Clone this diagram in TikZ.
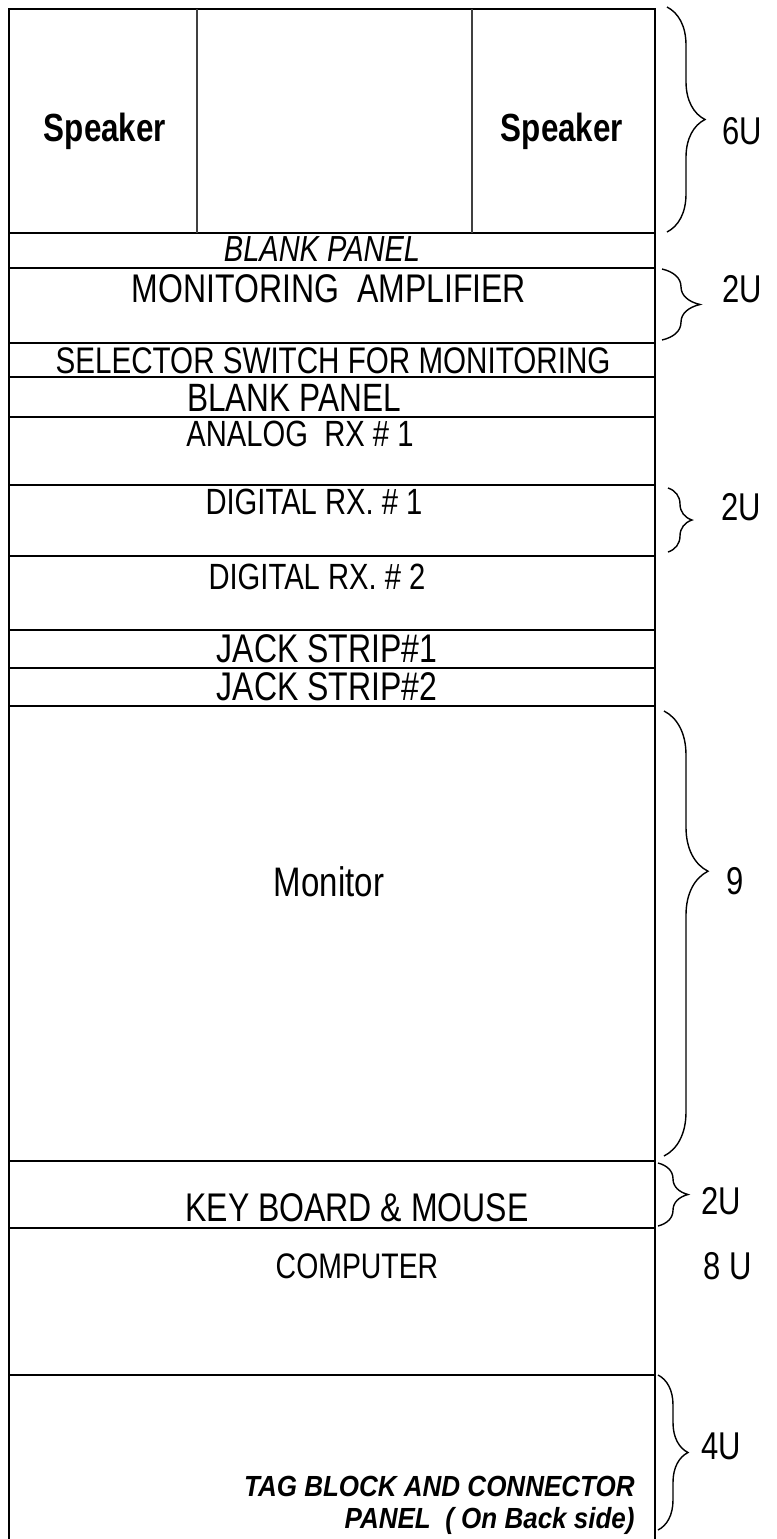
\documentclass[tikz,border=0pt]{standalone}
\usepackage{fontspec}
\usepackage{graphicx}
\setmainfont{Liberation Sans}
\usetikzlibrary{decorations.pathreplacing}
\newcommand{\vstr}[1]{\scalebox{1}[1.25]{#1}}
\newcommand{\vstrs}[1]{\scalebox{1}[1.12]{#1}}
\begin{document}
\begin{tikzpicture}[x=0.5pt,y=-0.5pt,
  frame/.style={line width=1.25pt,black},
  divider/.style={line width=0.8pt,black!75},
  brc/.style={decorate,decoration={brace,amplitude=#1},line width=0.7pt},
  txt/.style={anchor=base,inner sep=0pt,font=\fontsize{#1}{#1}\selectfont},
  rtxt/.style={anchor=base east,inner sep=0pt,font=\fontsize{#1}{#1}\selectfont}
]
\useasboundingbox (0,0) rectangle (777,1539);
% rack frame
\draw[frame] (9,1539) -- (9,9) -- (655,9) -- (655,1539);
\foreach \yy in {233,268,343,377,417,485,556,630,668,706,1161,1228,1375}
  \draw[frame] (9,\yy) -- (655,\yy);
\draw[divider] (197,9) -- (197,233);
\draw[divider] (472,9) -- (472,233);
% panel texts
\node[txt=15.7] (spkL) at (105,141) {\vstr{\bfseries Speaker}};
\node[txt=15.7] (spkR) at (562,141) {\vstr{\bfseries Speaker}};
\node[txt=14.5] (blank1) at (322,261) {\vstr{\itshape BLANK PANEL}};
\node[txt=16] (amp) at (329,302) {\vstr{MONITORING\ \ AMPLIFIER}};
\node[txt=14.8] (sel) at (333,373) {\vstr{SELECTOR SWITCH FOR MONITORING}};
\node[txt=15.8] (blank2) at (294,411) {\vstr{BLANK PANEL}};
\node[txt=14.6] (ana) at (300,446) {\vstr{ANALOG\ \ RX \# 1}};
\node[txt=14.6] (dig1) at (314,514) {\vstr{DIGITAL RX. \# 1}};
\node[txt=14.6] (dig2) at (317,589) {\vstr{DIGITAL RX. \# 2}};
\node[txt=16] (jack1) at (327,662) {\vstr{JACK STRIP\#1}};
\node[txt=16] (jack2) at (327,700) {\vstr{JACK STRIP\#2}};
\node[txt=16.5] (mon) at (329,896) {\vstr{Monitor}};
\node[txt=16] (kb) at (357,1221) {\vstr{KEY BOARD \& MOUSE}};
\node[txt=14.2] (comp) at (357,1278) {\vstr{COMPUTER}};
\node[rtxt=13] (tag1) at (635,1496) {\vstrs{\bfseries\itshape TAG BLOCK AND CONNECTOR}};
\node[rtxt=13] (tag2) at (635,1528) {\vstrs{\bfseries\itshape PANEL\ \ ( On Back side)}};
% braces and unit labels
\draw[brc=19pt] (667,7) -- (667,232);
\node[txt=15.5] (u6) at (742,144) {\vstr{6U}};
\draw[brc=19pt] (662,269) -- (662,340);
\node[txt=15.5] (u2a) at (742,302) {\vstr{2U}};
\draw[brc=12pt] (668,488) -- (668,552);
\node[txt=15.5] (u2b) at (741,520) {\vstr{2U}};
\draw[brc=22pt,decoration={aspect=0.36}] (664,711) -- (664,1156);
\node[txt=15.5] (u9) at (735,894) {\vstr{9}};
\draw[brc=15pt] (658,1163) -- (658,1226);
\node[txt=15.5] (u2c) at (721,1214) {\vstr{2U}};
\node[txt=15.5] (u8) at (728,1279) {\vstr{8 U}};
\draw[brc=15pt] (658,1375) -- (658,1530);
\node[txt=15.5] (u4) at (721,1459) {\vstr{4U}};
\end{tikzpicture}
\end{document}
